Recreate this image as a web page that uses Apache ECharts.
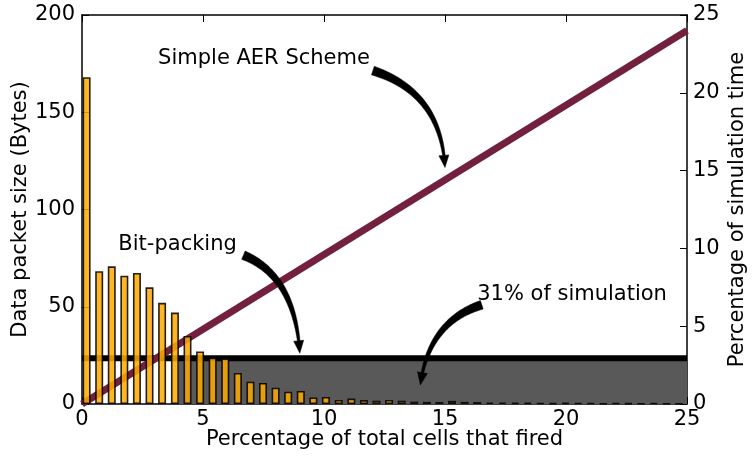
<!DOCTYPE html>
<html>
<head>
<meta charset="utf-8">
<script src="https://cdn.jsdelivr.net/npm/echarts@6/dist/echarts.min.js"></script>
<style>html,body{margin:0;padding:0;background:#fff}#c{width:756px;height:466px}</style>
</head>
<body>
<div id="c"></div>
<script>
// ---- data ----
const barX = [0.19,0.71,1.23,1.75,2.27,2.79,3.31,3.84,4.36,4.88,5.40,5.92,6.44,6.96,7.48,8.00,8.52,9.04,9.56,10.08,10.61,11.13,11.65,12.17,12.69,13.21,13.73,14.25,14.77,15.29,15.81,16.33,16.85,17.38,17.90,18.42,18.94,19.46,19.98,20.50,21.02,21.54,22.06,22.58,23.10,23.63,24.15,24.67];
const barBytes = [168,68.3,70.8,66,67.4,60,52,47,35,27,23.8,23.5,16,11.5,10.8,8.4,6.3,6.7,3.4,3.6,2.1,2.8,2.0,1.7,2.1,1.7,1.2,1.1,1.0,1.6,1.1,1.0,0.8,0.7,0.6,0.6,0.5,0.4,0.6,0.5,0.5,0.3,0.5,0.4,0.3,0.5,0.3,0.2];
const aerX = [0, 25];
const aerTime = [0, 24];
const bitX = [0, 25];
const bitBytes = [23.5, 23.5];
const shadeX = [4.0, 25];
const shadeBytes = [0, 23.5];
const xTicks = [0, 5, 10, 15, 20, 25];
const yLeftTicks = [0, 50, 100, 150, 200];
const yRightTicks = [0, 5, 10, 15, 20, 25];
// annotations: [label, textX, textY, tailX, tailY, ctrlX, ctrlY, headX, headY] (data coords, left axis)
const notes = [
  ['Simple AER Scheme', 7.52, 177.7, 12.02, 171.4, 14.83, 160.2, 15.0, 121.6],
  ['Bit-packing', 3.95, 81.9, 6.67, 76.5, 8.80, 65.8, 9.0, 26.1],
  ['31% of simulation', 20.25, 56.2, 16.52, 51.0, 14.33, 42.4, 13.98, 9.8]
];

const FONT = 'DejaVu Sans';
const chart = echarts.init(document.getElementById('c'), null, {renderer: 'canvas'});
const axisLineStyle = {show: true, onZero: false, lineStyle: {color: '#000', width: 1.5}};
const tickStyle = {show: true, inside: true, length: 7, lineStyle: {color: '#000', width: 1}};
const labStyle = {color: '#000', fontFamily: FONT, fontSize: 21};

chart.setOption({
  animation: false,
  grid: {left: 82, right: 69, top: 15, bottom: 62, containLabel: false, outerBoundsMode: 'none'},
  xAxis: [
    {type: 'value', position: 'bottom', min: xTicks[0], max: xTicks[xTicks.length-1], interval: 5,
     name: 'Percentage of total cells that fired', nameLocation: 'middle', nameGap: 25, nameMoveOverlap: false,
     nameTextStyle: {color: '#000', fontFamily: FONT, fontSize: 21},
     axisLine: axisLineStyle, axisTick: tickStyle, splitLine: {show: false},
     axisLabel: Object.assign({margin: 5}, labStyle)},
    {type: 'value', position: 'top', min: xTicks[0], max: xTicks[xTicks.length-1], interval: 5,
     axisLine: axisLineStyle, axisTick: tickStyle, splitLine: {show: false},
     axisLabel: {show: false}}
  ],
  yAxis: [
    {type: 'value', position: 'left', min: yLeftTicks[0], max: yLeftTicks[yLeftTicks.length-1], interval: 50,
     name: 'Data packet size (Bytes)', nameLocation: 'middle', nameGap: 51, nameMoveOverlap: false,
     nameTextStyle: {color: '#000', fontFamily: FONT, fontSize: 21},
     axisLine: axisLineStyle, axisTick: tickStyle,
     splitLine: {show: false}, axisLabel: Object.assign({margin: 7}, labStyle)},
    {type: 'value', position: 'right', min: yRightTicks[0], max: yRightTicks[yRightTicks.length-1], interval: 5,
     name: 'Percentage of simulation time', nameLocation: 'middle', nameGap: 40, nameMoveOverlap: false,
     nameRotate: 90,
     nameTextStyle: {color: '#000', fontFamily: FONT, fontSize: 21},
     axisLine: axisLineStyle, axisTick: tickStyle,
     splitLine: {show: false}, axisLabel: Object.assign({margin: 6}, labStyle)}
  ],
  series: [
    {type: 'line', name: 'Bit-packing', z: 1, symbol: 'none', xAxisIndex: 0, yAxisIndex: 0,
     data: bitX.map((x, i) => [x, bitBytes[i]]),
     lineStyle: {color: '#000', width: 6},
     markArea: {silent: true, itemStyle: {color: '#595959', opacity: 1},
       data: [[{coord: [shadeX[0], shadeBytes[0]]}, {coord: [shadeX[1], shadeBytes[1]]}]]}},
    {type: 'line', name: 'Simple AER', z: 2, symbol: 'none', xAxisIndex: 0, yAxisIndex: 1,
     data: aerX.map((x, i) => [x, aerTime[i]]),
     lineStyle: {color: '#73203f', width: 7}},
    {type: 'bar', name: 'Packets', z: 3, xAxisIndex: 0, yAxisIndex: 0, barWidth: 8, barMinWidth: 8,
     data: barX.map((x, i) => [x, barBytes[i]]),
     itemStyle: {color: '#ffaa00', borderColor: '#000', borderWidth: 1.6, opacity: 0.86}}
  ]
});

function arrowPoly(p0, c, p1) {
  const N = 60, pts = [];
  for (let i = 0; i <= N; i++) {
    const t = i / N, u = 1 - t;
    pts.push([u*u*p0[0] + 2*u*t*c[0] + t*t*p1[0], u*u*p0[1] + 2*u*t*c[1] + t*t*p1[1]]);
  }
  const cum = [0];
  for (let i = 1; i < pts.length; i++) cum.push(cum[i-1] + Math.hypot(pts[i][0]-pts[i-1][0], pts[i][1]-pts[i-1][1]));
  const L = cum[cum.length-1], headLen = 11, headW = 5;
  const left = [], right = [];
  let lastIdx = 0;
  for (let i = 0; i < pts.length; i++) {
    if (cum[i] > L - headLen) break;
    lastIdx = i;
    const a = pts[Math.max(0, i-1)], b = pts[Math.min(pts.length-1, i+1)];
    let dx = b[0]-a[0], dy = b[1]-a[1]; const d = Math.hypot(dx, dy) || 1; dx /= d; dy /= d;
    const s = cum[i] / (L - headLen);
    const w = (9 * (1 - s) + 2.5 * s) / 2;
    left.push([pts[i][0] - dy*w, pts[i][1] + dx*w]);
    right.push([pts[i][0] + dy*w, pts[i][1] - dx*w]);
  }
  const base = pts[lastIdx];
  let dx = p1[0]-base[0], dy = p1[1]-base[1]; const d = Math.hypot(dx, dy) || 1; dx /= d; dy /= d;
  const poly = left.slice();
  poly.push([base[0] - dy*headW, base[1] + dx*headW]);
  poly.push([p1[0], p1[1]]);
  poly.push([base[0] + dy*headW, base[1] - dx*headW]);
  return poly.concat(right.reverse());
}

const toPx = (x, y) => chart.convertToPixel({xAxisIndex: 0, yAxisIndex: 0}, [x, y]);
const graphics = [];
notes.forEach(n => {
  const tp = toPx(n[1], n[2]);
  graphics.push({type: 'text', z: 10, x: tp[0], y: tp[1],
    style: {text: n[0], fill: '#000', font: '21px "DejaVu Sans"', textAlign: 'center', textVerticalAlign: 'middle'}});
  graphics.push({type: 'polygon', z: 10, shape: {points: arrowPoly(toPx(n[3], n[4]), toPx(n[5], n[6]), toPx(n[7], n[8]))},
    style: {fill: '#000', stroke: '#000', lineWidth: 0.5}});
});
chart.setOption({graphic: graphics});
</script>
</body>
</html>
